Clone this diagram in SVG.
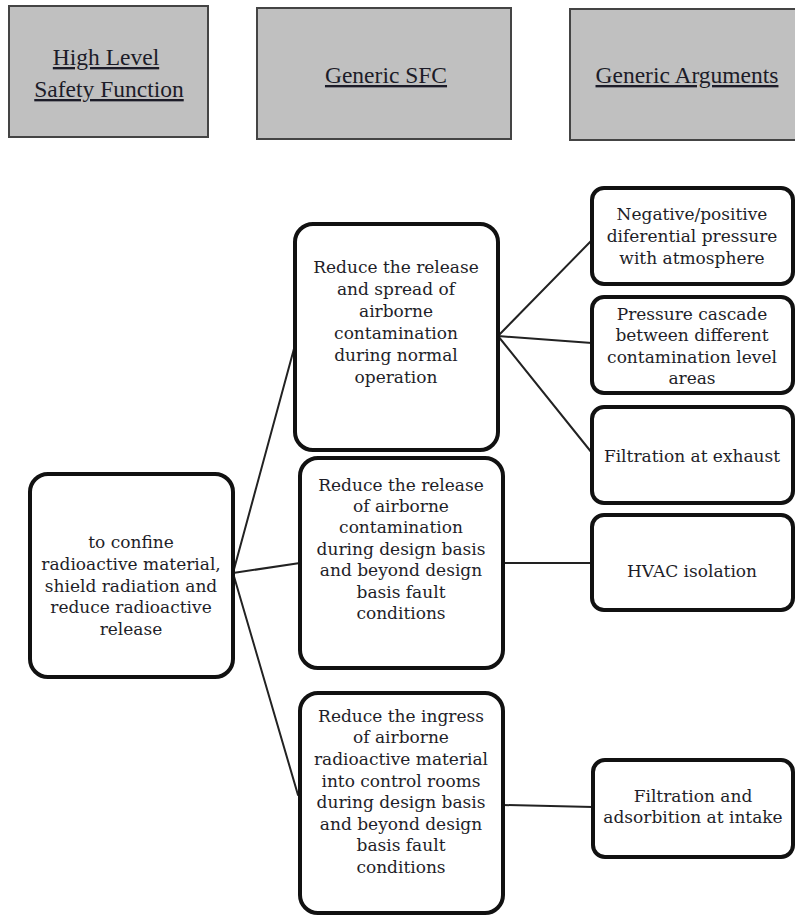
<svg xmlns="http://www.w3.org/2000/svg" width="795" height="916" viewBox="0 0 795 916">
<style>
.hdr rect{fill:#c0c0c0;stroke:#444;stroke-width:2}
.hdr text{font-family:"Liberation Serif","Times New Roman",serif;font-size:23.5px;fill:#1c1c28;text-anchor:middle;text-decoration:underline}
.node rect{fill:#fff;stroke:#111;stroke-width:4}
.node text{font-family:"DejaVu Serif","Liberation Serif",serif;font-size:17px;fill:#1e1e28;text-anchor:middle}
.conn line{stroke:#222;stroke-width:2;stroke-linecap:round}
</style>
<rect width="795" height="916" fill="#fff"/>
<g id="hdr-hlsf" class="hdr">
<rect x="9" y="6" width="199" height="131"/>
<text x="106" y="65">High Level</text>
<text x="109" y="97">Safety Function</text>
</g>
<g id="hdr-sfc" class="hdr">
<rect x="257" y="8" width="254" height="131"/>
<text x="386" y="83">Generic SFC</text>
</g>
<g id="hdr-args" class="hdr">
<rect x="570" y="9" width="232" height="131"/>
<text x="687" y="83">Generic Arguments</text>
</g>
<g id="connectors" class="conn">
<line x1="233" y1="573" x2="295" y2="345"/>
<line x1="233" y1="573" x2="300" y2="563"/>
<line x1="233" y1="573" x2="298" y2="795"/>
<line x1="498" y1="336" x2="592" y2="240"/>
<line x1="498" y1="336" x2="592" y2="343"/>
<line x1="498" y1="336" x2="592" y2="453"/>
<line x1="503" y1="563" x2="592" y2="563"/>
<line x1="503" y1="805" x2="593" y2="807"/>
</g>
<g id="n-root" class="node">
<rect x="30" y="474" width="203" height="203" rx="18"/>
<text x="131" y="548">to confine</text>
<text x="131" y="570">radioactive material,</text>
<text x="131" y="592">shield radiation and</text>
<text x="131" y="613">reduce radioactive</text>
<text x="131" y="635">release</text>
</g>
<g id="n-sfc1" class="node">
<rect x="295" y="224" width="203" height="226" rx="18"/>
<text x="396" y="273">Reduce the release</text>
<text x="396" y="295">and spread of</text>
<text x="396" y="317">airborne</text>
<text x="396" y="339">contamination</text>
<text x="396" y="361">during normal</text>
<text x="396" y="383">operation</text>
</g>
<g id="n-sfc2" class="node">
<rect x="300" y="458" width="203" height="210" rx="18"/>
<text x="401" y="491">Reduce the release</text>
<text x="401" y="512">of airborne</text>
<text x="401" y="533">contamination</text>
<text x="401" y="555">during design basis</text>
<text x="401" y="576">and beyond design</text>
<text x="401" y="598">basis fault</text>
<text x="401" y="619">conditions</text>
</g>
<g id="n-sfc3" class="node">
<rect x="300" y="693" width="203" height="220" rx="18"/>
<text x="401" y="722">Reduce the ingress</text>
<text x="401" y="743">of airborne</text>
<text x="401" y="765">radioactive material</text>
<text x="401" y="787">into control rooms</text>
<text x="401" y="808">during design basis</text>
<text x="401" y="830">and beyond design</text>
<text x="401" y="851">basis fault</text>
<text x="401" y="873">conditions</text>
</g>
<g id="n-arg1" class="node">
<rect x="592" y="188" width="201" height="96" rx="12"/>
<text x="692" y="220">Negative/positive</text>
<text x="692" y="242">diferential pressure</text>
<text x="692" y="264">with atmosphere</text>
</g>
<g id="n-arg2" class="node">
<rect x="592" y="297" width="201" height="96" rx="12"/>
<text x="692" y="320">Pressure cascade</text>
<text x="692" y="341">between different</text>
<text x="692" y="363">contamination level</text>
<text x="692" y="384">areas</text>
</g>
<g id="n-arg3" class="node">
<rect x="592" y="407" width="201" height="96" rx="12"/>
<text x="692" y="462">Filtration at exhaust</text>
</g>
<g id="n-arg4" class="node">
<rect x="592" y="515" width="201" height="95" rx="12"/>
<text x="692" y="577">HVAC isolation</text>
</g>
<g id="n-arg5" class="node">
<rect x="593" y="760" width="200" height="97" rx="12"/>
<text x="693" y="802">Filtration and</text>
<text x="693" y="823">adsorbition at intake</text>
</g>
</svg>
